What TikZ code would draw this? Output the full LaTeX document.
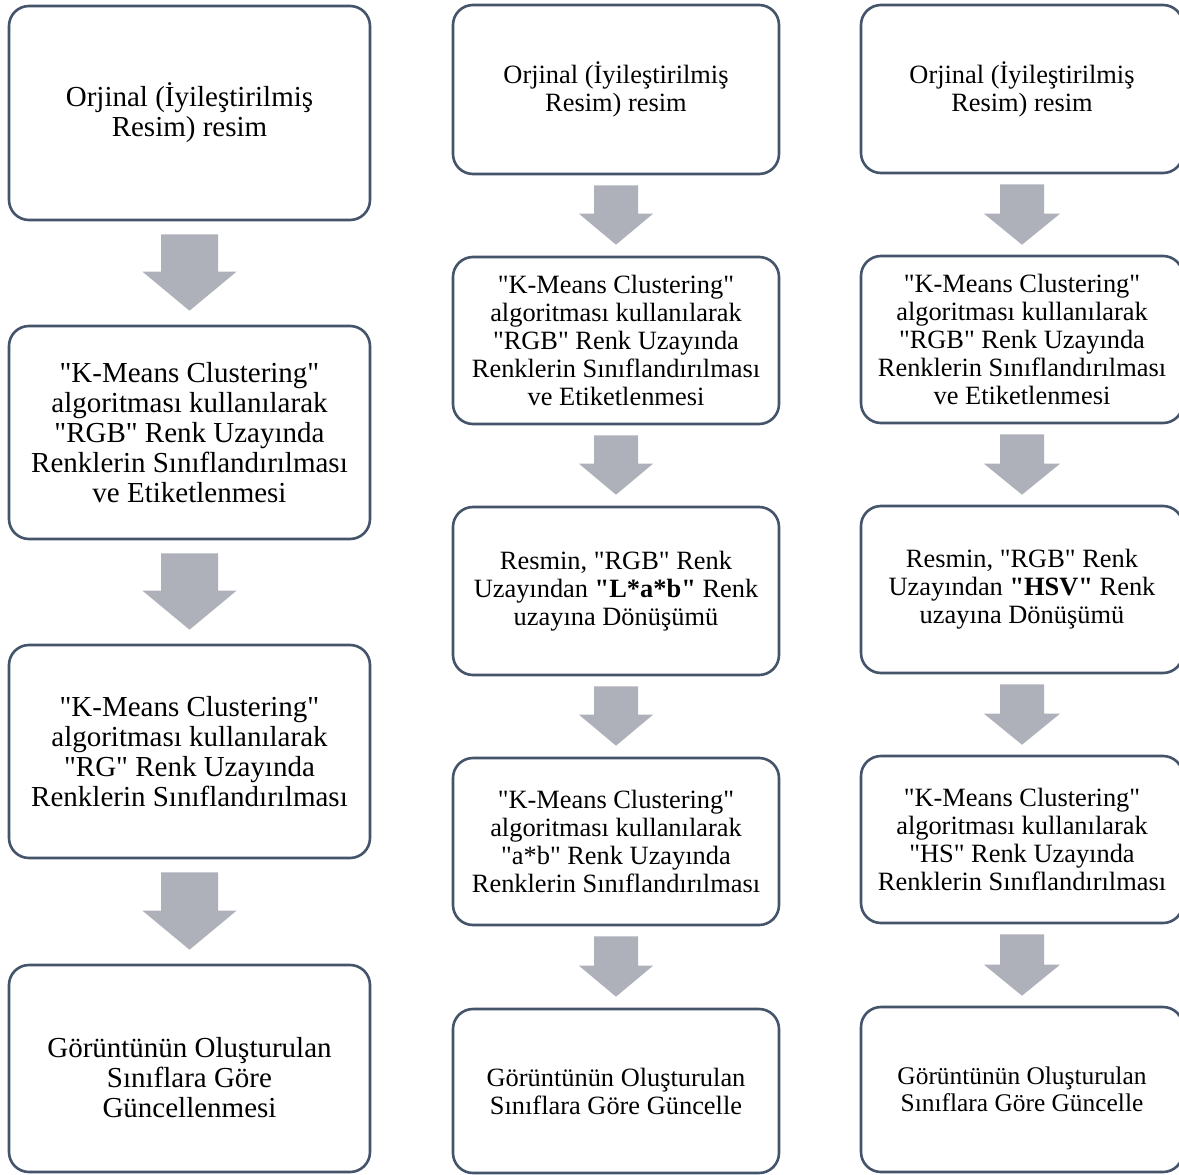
\documentclass[tikz,border=0pt]{standalone}
\usepackage{fontspec}
\setmainfont{Liberation Serif}[Ligatures=TeXOff]
\usetikzlibrary{calc}
\definecolor{boxline}{RGB}{68,84,106}
\definecolor{arrowfill}{RGB}{174,177,185}
\tikzset{
  flowbox/.style={draw=boxline, line width=2.6pt, rounded corners=20pt, fill=white,
    align=center, inner sep=0pt, text=black},
  bigbox/.style={flowbox, font=\fontsize{29}{30}\selectfont, minimum width=361pt},
  midbox/.style={flowbox, font=\fontsize{26.4}{28}\selectfont},
  smallbox/.style={flowbox, font=\fontsize{25.4}{27}\selectfont},
}
% #1 from, #2 to, #3 half shaft, #4 half head, #5 head length, #6 top gap, #7 tip gap
\newcommand{\blockarr}[7]{%
  \fill[arrowfill] let \p1=(#1.south), \p2=(#2.north) in
   (\x1-#3, \y1-#6) -- (\x1+#3, \y1-#6) -- (\x1+#3, \y2+#7+#5) -- (\x1+#4, \y2+#7+#5)
   -- (\x1, \y2+#7) -- (\x1-#4, \y2+#7+#5) -- (\x1-#3, \y2+#7+#5) -- cycle;}
\begin{document}
\begin{tikzpicture}[x=1pt,y=-1pt]
\fill[white] (0,0) rectangle (1179,1175);
\useasboundingbox (0,0) rectangle (1179,1175);

% Column 1
\node[bigbox, minimum height=214pt] (c1a) at (189.5,113) {Orjinal (İyileştirilmiş\\Resim) resim};
\node[bigbox, minimum height=213pt] (c1b) at (189.5,432.5) {"K-Means Clustering"\\algoritması kullanılarak\\"RGB" Renk Uzayında\\Renklerin Sınıflandırılması\\ve Etiketlenmesi};
\node[bigbox, minimum height=213pt] (c1c) at (189.5,751.5) {"K-Means Clustering"\\algoritması kullanılarak\\"RG" Renk Uzayında\\Renklerin Sınıflandırılması};
\node[bigbox, minimum height=207pt] (c1d) at (189.5,1068.5) {\rule{0pt}{38pt}Görüntünün Oluşturulan\\Sınıflara Göre\\Güncellenmesi};

% Column 2
\node[midbox, minimum width=326pt, minimum height=169pt] (c2a) at (616,89.5) {Orjinal (İyileştirilmiş\\Resim) resim};
\node[midbox, minimum width=326pt, minimum height=167pt] (c2b) at (616,340.5) {"K-Means Clustering"\\algoritması kullanılarak\\"RGB" Renk Uzayında\\Renklerin Sınıflandırılması\\ve Etiketlenmesi};
\node[midbox, minimum width=326pt, minimum height=168pt] (c2c) at (616,591) {Resmin, "RGB" Renk\\Uzayından \textbf{"L*a*b"} Renk\\uzayına Dönüşümü};
\node[midbox, minimum width=326pt, minimum height=167pt] (c2d) at (616,841.5) {"K-Means Clustering"\\algoritması kullanılarak\\"a*b" Renk Uzayında\\Renklerin Sınıflandırılması};
\node[midbox, minimum width=326pt, minimum height=164pt] (c2e) at (616,1091) {Görüntünün Oluşturulan\\Sınıflara Göre Güncelle};

% Column 3
\node[midbox, minimum width=322pt, minimum height=168pt] (c3a) at (1022,89) {Orjinal (İyileştirilmiş\\Resim) resim};
\node[midbox, minimum width=322pt, minimum height=167pt] (c3b) at (1022,339.5) {"K-Means Clustering"\\algoritması kullanılarak\\"RGB" Renk Uzayında\\Renklerin Sınıflandırılması\\ve Etiketlenmesi};
\node[midbox, minimum width=322pt, minimum height=167pt] (c3c) at (1022,589.5) {Resmin, "RGB" Renk\\Uzayından \textbf{"HSV"} Renk\\uzayına Dönüşümü};
\node[midbox, minimum width=322pt, minimum height=167pt] (c3d) at (1022,839.5) {"K-Means Clustering"\\algoritması kullanılarak\\"HS" Renk Uzayında\\Renklerin Sınıflandırılması};
\node[smallbox, minimum width=322pt, minimum height=165pt] (c3e) at (1022,1089.5) {Görüntünün Oluşturulan\\Sınıflara Göre Güncelle};

% Arrows column 1
\blockarr{c1a}{c1b}{28.5pt}{47pt}{39pt}{13pt}{14pt}
\blockarr{c1b}{c1c}{28.5pt}{47pt}{39pt}{13pt}{14pt}
\blockarr{c1c}{c1d}{28.5pt}{47pt}{39pt}{13pt}{14pt}
% Arrows column 2
\blockarr{c2a}{c2b}{22pt}{37pt}{31pt}{10pt}{11pt}
\blockarr{c2b}{c2c}{22pt}{37pt}{31pt}{10pt}{11pt}
\blockarr{c2c}{c2d}{22pt}{37pt}{31pt}{10pt}{11pt}
\blockarr{c2d}{c2e}{22pt}{37pt}{31pt}{10pt}{11pt}
% Arrows column 3
\blockarr{c3a}{c3b}{22pt}{38pt}{31pt}{10pt}{10pt}
\blockarr{c3b}{c3c}{22pt}{38pt}{31pt}{10pt}{10pt}
\blockarr{c3c}{c3d}{22pt}{38pt}{31pt}{10pt}{10pt}
\blockarr{c3d}{c3e}{22pt}{38pt}{31pt}{10pt}{10pt}
\end{tikzpicture}
\end{document}
